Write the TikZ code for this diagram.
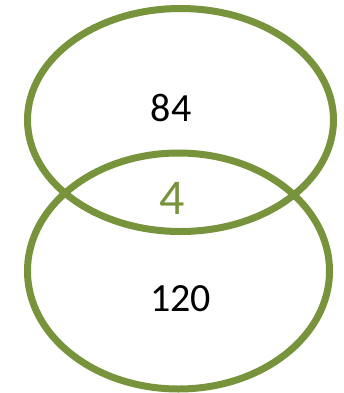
\documentclass[tikz,border=0pt]{standalone}
\usepackage{fontspec}
\setmainfont{Carlito}
\usetikzlibrary{shapes.geometric}
\definecolor{vgreen}{HTML}{77933C}
\tikzset{
  setring/.style={ellipse, draw=vgreen, line width=7bp, inner sep=0pt},
  numlabel/.style={font=\fontsize{40bp}{44bp}\selectfont, text=black, inner sep=0pt},
  midlabel/.style={font=\fontsize{50bp}{56bp}\selectfont, text=vgreen, inner sep=0pt}
}
\begin{document}
\begin{tikzpicture}[x=1bp,y=-1bp]
\useasboundingbox (0,0) rectangle (344,393);
\node[setring, minimum width=306bp, minimum height=223bp] (top) at (180.5,120) {};
\node[setring, minimum width=302bp, minimum height=236bp] (bot) at (178.5,271) {};
\node[numlabel] (a) at (171,108) {84};
\node[midlabel] (b) at (172,198.5) {4};
\node[numlabel] (c) at (180.5,299) {120};
\end{tikzpicture}
\end{document}
